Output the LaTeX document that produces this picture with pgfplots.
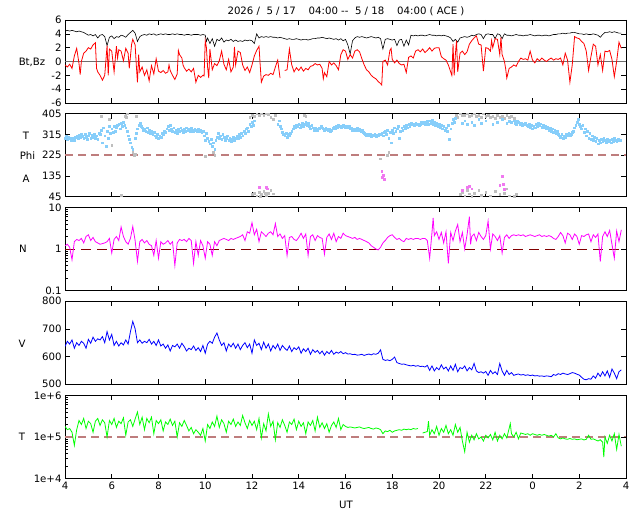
\documentclass[border=0pt]{standalone}
\usepackage{fontspec}
\setmainfont{DejaVu Sans}
\usepackage{pgfplots}
\pgfplotsset{compat=1.18}
\definecolor{phiblue}{RGB}{135,206,250}
\definecolor{phigray}{RGB}{190,190,190}
\definecolor{phimag}{RGB}{240,120,240}
\definecolor{dashrose}{RGB}{190,125,125}
\definecolor{dashdark}{RGB}{128,0,0}
\definecolor{zerogray}{RGB}{110,110,110}
\definecolor{nmag}{RGB}{255,0,255}
\definecolor{tgreen}{RGB}{0,255,0}
\newcommand{\fs}{\fontsize{10.2}{12}\selectfont}
\pgfplotsset{
 panel/.style={
  scale only axis, width=561bp, height=83bp,
  anchor=south west,
  xmin=4, xmax=28,
  xtick={4,6,...,28},
  xticklabels={},
  tick align=inside,
  xtick pos=both, ytick pos=both,
  major tick length=5bp, minor tick length=3bp,
  axis line style={line width=0.8bp},
  tick style={black, line width=0.6bp},
  ticklabel style={font=\fs},
  clip=true,
 },
 rightticks/.style={
  panel, axis line style={draw=none}, xtick=\empty, yticklabels={},
  ytick pos=right, minor y tick style={draw=none},
 }
}
\begin{document}
\begin{tikzpicture}
\path[use as bounding box] (0bp,0bp) rectangle (640bp,512bp);
\node[font=\fs] at (346bp,501bp) {2026 /\ \ 5 / 17\ \ \ \ 04:00 {-}{-}\ \ 5 / 18\ \ \ \ 04:00 ( ACE )};
\node[font=\fs] at (32bp,450bp) {Bt,Bz};
\node[font=\fs] at (26bp,376.6bp) {T};
\node[font=\fs] at (27.5bp,356.5bp) {Phi};
\node[font=\fs] at (26bp,333bp) {A};
\node[font=\fs] at (23bp,263bp) {N};
\node[font=\fs] at (22bp,168bp) {V};
\node[font=\fs] at (22bp,75.3bp) {T};
\node[font=\fs] at (346bp,7bp) {UT};
% ---------------- Panel 1: Bt, Bz
\begin{axis}[panel, at={(65bp,409bp)}, ymin=-6, ymax=6, ytick={-6,-4,...,6}, yticklabels={-6,-4,-2,0,2,4,6}]
\addplot[zerogray, line width=1.4bp] coordinates {(4,0) (28,0)};
\addplot[black, line width=0.6bp] coordinates {
(4.0,4.4)(4.1,4.5)(4.2,4.4)(4.3,4.5)(4.4,4.4)(4.5,4.3)(4.6,4.4)(4.7,4.3)(4.8,4.2)(4.9,4.0)
(5.0,3.8)(5.1,3.9)(5.2,3.7)(5.3,3.9)(5.4,3.4)(5.5,3.8)(5.6,3.9)(5.7,3.6)(5.8,2.3)(5.9,3.5)
(6.0,3.7)(6.1,3.3)(6.2,3.6)(6.3,3.5)(6.4,3.8)(6.5,3.7)(6.6,3.5)(6.7,3.9)(6.8,4.2)(6.9,4.5)
(7.0,4.1)(7.1,2.9)(7.2,3.6)(7.3,3.8)(7.4,3.9)(7.5,3.8)(7.6,4.0)(7.7,3.9)(7.8,4.0)(7.9,3.8)
(8.0,3.9)(8.1,4.0)(8.2,3.9)(8.3,4.0)(8.4,3.9)(8.5,3.9)(8.6,4.0)(8.7,3.9)(8.8,4.0)(8.9,3.9)
(9.0,3.9)(9.1,3.8)(9.2,3.9)(9.3,3.9)(9.4,3.8)(9.5,3.9)(9.6,3.9)(9.7,3.9)(9.8,3.8)(9.9,3.9)
(10.0,3.8)(10.05,2.9)(10.1,3.4)(10.2,2.6)(10.3,3.3)(10.4,2.2)(10.5,3.2)(10.6,3.0)(10.7,3.4)(10.8,2.8)(10.9,3.1)
(11.0,3.0)(11.1,3.2)(11.2,2.9)(11.3,3.1)(11.4,2.9)(11.5,3.0)(11.6,2.9)(11.7,3.1)(11.8,3.0)(11.9,3.1)
(12.0,3.0)(12.1,2.6)(12.2,4.0)(12.3,3.4)(12.4,3.6)(12.5,3.5)(12.6,3.6)(12.7,3.5)(12.8,3.6)(12.9,3.5)
(13.0,3.5)(13.1,3.4)(13.2,3.5)(13.3,3.4)(13.4,3.3)(13.5,3.2)(13.6,3.3)(13.7,3.2)(13.8,3.2)(13.9,3.3)
(14.0,3.2)(14.1,3.1)(14.2,3.2)(14.3,3.2)(14.4,3.1)(14.5,3.2)(14.6,3.3)(14.7,3.3)(14.8,3.4)(14.9,3.4)
(15.0,3.5)(15.1,3.4)(15.2,3.3)(15.3,3.4)(15.4,3.3)(15.5,3.2)(15.6,3.3)(15.7,3.1)(15.8,3.3)(15.9,3.0)
(16.0,3.2)(16.1,2.4)(16.2,1.1)(16.3,3.0)(16.4,3.4)(16.5,3.6)(16.6,3.5)(16.7,3.6)(16.8,3.5)(16.9,3.4)
(17.0,3.5)(17.1,3.6)(17.2,3.5)(17.3,3.4)(17.4,3.5)(17.5,3.3)(17.6,1.8)(17.7,3.2)(17.8,3.3)(17.9,3.2)
(18.0,3.1)(18.1,3.2)(18.2,2.3)(18.3,3.1)(18.4,3.2)(18.5,2.2)(18.6,3.1)(18.7,2.4)(18.8,3.8)(18.9,3.7)
(19.0,3.8)(19.1,3.7)(19.2,3.8)(19.3,3.8)(19.4,3.7)(19.5,3.8)(19.6,3.9)(19.7,3.8)(19.8,3.8)(19.9,3.7)
(20.0,3.8)(20.1,3.7)(20.2,3.8)(20.3,3.7)(20.4,3.6)(20.5,3.4)(20.6,2.9)(20.7,3.2)(20.8,2.8)(20.9,3.4)
(21.0,3.5)(21.1,3.6)(21.2,3.5)(21.3,3.6)(21.4,3.8)(21.5,3.7)(21.6,3.9)(21.7,4.0)(21.8,3.9)(21.9,3.3)
(22.0,3.9)(22.1,4.0)(22.2,3.9)(22.3,3.9)(22.4,3.3)(22.5,4.0)(22.6,3.9)(22.7,3.3)(22.8,4.0)(22.9,3.8)
(23.0,3.8)(23.1,3.7)(23.2,3.8)(23.3,3.9)(23.4,3.8)(23.5,3.8)(23.6,3.7)(23.7,3.8)(23.8,3.8)(23.9,3.9)
(24.0,3.8)(24.1,3.7)(24.2,3.8)(24.3,3.8)(24.4,3.7)(24.5,3.8)(24.6,3.8)(24.7,3.7)(24.8,3.8)(24.9,3.9)
(25.0,3.9)(25.1,4.0)(25.2,4.0)(25.3,4.1)(25.4,4.0)(25.5,4.1)(25.6,4.1)(25.7,4.2)(25.8,4.2)(25.9,4.1)
(26.0,4.0)(26.1,4.0)(26.2,3.9)(26.3,4.0)(26.4,3.9)(26.5,3.9)(26.6,4.0)(26.7,3.9)(26.8,3.8)(26.9,3.5)
(27.0,3.9)(27.1,4.2)(27.2,4.2)(27.3,4.3)(27.4,4.2)(27.5,4.3)(27.6,4.2)(27.7,4.1)(27.8,4.1)};
\addplot[red, line width=0.8bp] coordinates {
(4.0,-0.5)(4.1,-0.8)(4.2,-0.4)(4.3,-1.0)(4.4,0.8)(4.5,1.9)(4.6,-0.3)(4.65,-1.9)(4.7,0.0)(4.8,1.2)(4.9,1.5)
(5.0,2.0)(5.1,1.8)(5.2,2.4)(5.3,2.7)(5.35,-1.0)(5.4,-1.5)(5.5,-2.0)(5.6,-2.7)(5.7,-2.0)(5.8,2.3)(5.85,-2.0)(5.9,1.8)
(6.0,1.5)(6.1,-1.5)(6.2,2.2)(6.25,0.5)(6.3,1.7)(6.4,1.5)(6.5,0.1)(6.6,1.9)(6.7,1.2)(6.75,-1.0)(6.85,2.5)(6.9,3.2)
(7.0,2.4)(7.05,-0.5)(7.1,-3.0)(7.15,1.0)(7.2,-1.5)(7.3,-0.8)(7.4,-2.0)(7.5,-1.2)(7.6,-2.8)(7.7,-0.6)(7.8,-1.8)(7.9,0.4)
(8.0,-1.4)(8.1,-1.6)(8.2,-1.3)(8.3,-1.7)(8.4,-1.5)(8.45,-0.5)(8.5,-1.3)(8.6,-2.0)(8.7,-2.6)(8.8,-1.8)(8.85,1.6)(8.9,1.0)
(9.0,0.5)(9.05,-0.5)(9.1,-0.9)(9.2,-1.4)(9.3,-1.1)(9.4,-1.5)(9.5,-1.0)(9.6,-3.0)(9.7,-2.0)(9.8,-2.3)(9.9,-2.0)(9.95,-2.1)
(10.0,3.0)(10.05,2.0)(10.1,-0.8)(10.15,-2.4)(10.2,1.8)(10.3,-1.2)(10.4,-0.3)(10.5,-0.6)(10.6,0.1)(10.7,1.5)(10.8,-0.4)(10.9,-1.2)
(11.0,0.3)(11.1,-1.5)(11.2,-0.8)(11.25,2.1)(11.3,-0.5)(11.4,1.5)(11.5,1.3)(11.6,-0.5)(11.7,-1.3)(11.8,-0.8)(11.9,-1.6)
(12.0,-0.5)(12.1,0.8)(12.2,1.6)(12.3,2.2)(12.35,-0.5)(12.4,-3.0)(12.5,-2.1)(12.6,-1.9)(12.7,-2.0)(12.8,-1.7)(12.9,-1.9)
(13.0,-0.8)(13.1,0.2)(13.2,-2.4)};
\addplot[red, line width=0.8bp] coordinates {
(13.4,-1.3)(13.5,-1.2)(13.6,1.8)(13.7,-0.5)(13.8,-1.5)(13.9,-0.9)
(14.0,-1.3)(14.1,-0.8)(14.2,-1.4)(14.3,-1.0)(14.4,-1.2)(14.5,-0.7)(14.6,-0.6)(14.7,-0.3)(14.8,-0.5)(14.9,-0.4)
(15.0,-1.0)(15.05,-2.5)(15.1,-1.6)(15.2,-2.2)(15.3,0.0)(15.4,-0.5)(15.5,-0.2)(15.6,-0.6)(15.7,-1.2)(15.8,1.0)(15.9,1.7)
(16.0,1.5)(16.1,0.3)(16.2,1.0)(16.3,0.5)(16.4,1.5)(16.5,1.7)(16.6,1.4)(16.7,0.4)(16.8,-0.5)(16.9,-1.2)
(17.0,-1.5)(17.1,-2.0)(17.2,-2.3)(17.3,-2.5)(17.4,-2.9)(17.5,-3.2)(17.55,-3.4)(17.6,0.0)(17.7,0.2)(17.8,-0.5)(17.9,1.6)(17.95,1.9)
(18.0,0.3)(18.1,-0.2)(18.2,0.2)(18.3,-0.3)(18.4,-0.5)(18.5,-0.4)(18.6,-1.6)(18.7,0.6)(18.8,0.8)(18.9,0.5)
(19.0,1.5)(19.1,1.7)(19.2,1.4)(19.3,1.8)(19.4,1.3)(19.5,1.6)(19.6,2.0)(19.7,1.5)(19.8,1.9)(19.9,2.0)
(20.0,2.0)(20.1,0.7)(20.2,0.4)(20.3,0.2)(20.4,-0.5)(20.5,-1.5)(20.55,-2.0)(20.6,2.5)(20.65,-2.0)(20.7,1.0)(20.75,3.0)(20.8,-1.5)(20.9,1.2)
(21.0,1.5)(21.1,1.0)(21.2,1.4)(21.3,2.5)(21.4,3.0)(21.5,3.4)(21.6,3.7)(21.7,2.5)(21.8,2.4)(21.9,-1.4)
(22.0,2.0)(22.1,1.9)(22.2,1.5)(22.25,3.0)(22.3,2.0)(22.4,3.3)(22.5,3.2)(22.6,1.0)(22.65,3.5)(22.7,1.0)(22.8,0.0)(22.85,-1.0)(22.9,-2.4)
(23.0,-1.0)(23.1,-0.8)(23.2,-0.5)(23.3,-0.7)(23.4,0.0)(23.5,0.5)(23.6,0.3)(23.7,0.4)(23.8,0.2)(23.9,1.5)
(24.0,0.2)(24.1,-0.2)(24.2,0.4)(24.3,0.1)(24.4,0.5)(24.5,0.2)(24.6,0.0)(24.7,0.3)(24.8,0.5)(24.9,0.2)
(25.0,0.4)(25.1,0.3)(25.2,0.5)(25.3,-0.5)(25.4,1.2)(25.5,0.2)(25.6,-3.0)(25.7,-0.5)(25.8,3.6)(25.9,3.4)
(26.0,3.3)(26.1,2.9)(26.2,2.6)(26.3,1.5)(26.4,-1.3)(26.5,0.7)(26.6,2.5)(26.7,2.2)(26.8,-0.5)(26.9,1.0)
(27.0,-1.3)(27.1,1.5)(27.2,1.4)(27.3,1.6)(27.4,0.3)(27.5,-2.2)(27.6,0.0)(27.7,2.8)(27.8,1.9)};
\end{axis}
% ---------------- Panel 2: Phi
\begin{axis}[panel, at={(65bp,315.2bp)}, ymin=45, ymax=405, ytick={45,135,225,315,405}, yticklabels={45,135,225,315,405}]
\addplot[dashrose, line width=1.6bp, dash pattern=on 8bp off 5bp] coordinates {(4,225) (28,225)};
\addplot[only marks, mark=square*, mark size=0.9bp, phigray, mark options={draw=phigray, fill=phigray}] coordinates {
(5.55,395)(5.9,380)(6.0,270)(6.55,395)(6.6,400)(6.65,405)(6.62,390)(6.9,240)(6.95,225)(7.0,230)(7.05,395)
(10.0,220)(10.35,240)(10.4,225)(11.9,390)(12.0,400)(12.1,395)(12.2,405)(12.3,398)(12.4,405)(12.5,400)(12.6,405)
(12.7,402)(12.8,390)(12.9,380)(13.0,400)(14.25,400)(14.3,395)(17.5,210)(17.8,225)(17.85,240)
(20.75,400)(20.8,390)(20.9,405)(21.0,400)(21.1,398)(21.2,405)(21.3,395)(21.4,400)(21.5,405)(21.6,395)(21.7,400)
(21.8,390)(21.9,405)(22.0,395)(22.1,400)(22.2,390)(22.3,395)(22.4,385)(22.5,400)(22.6,390)(22.7,395)(22.8,385)
(22.9,400)(23.0,390)(23.1,395)(23.2,385)
(6.4,52)(12.0,55)(12.1,60)(12.2,50)(12.3,65)(12.4,55)(12.5,70)(12.6,50)(12.7,60)(12.8,72)(12.9,58)(12.35,48)(12.55,62)
(20.9,55)(21.0,65)(21.1,50)(21.2,72)(21.3,58)(21.4,48)(21.5,62)(21.7,75)(21.8,52)(22.0,66)(22.2,50)(22.4,70)
(22.6,56)(22.8,62)(22.9,80)(23.0,50)(23.2,48)(23.3,55)};
\addplot[only marks, mark=square*, mark size=0.9bp, phimag, mark options={draw=phimag, fill=phimag}] coordinates {
(12.3,88)(12.6,85)(12.65,80)(17.55,155)(17.6,140)(17.58,130)(17.65,120)(21.0,75)(21.2,88)(21.3,92)(21.4,80)
(22.6,95)(22.7,135)(22.75,100)(22.8,78)};
\addplot[only marks, mark=square*, mark size=0.9bp, phiblue, mark options={draw=phiblue, fill=phiblue}] coordinates {
(4.0,300)(4.05,310)(4.1,295)(4.15,305)(4.2,298)(4.25,292)(4.3,300)(4.35,296)(4.4,290)(4.45,302)(4.5,308)(4.55,300)
(4.6,312)(4.65,305)(4.7,315)(4.75,308)(4.8,300)(4.85,318)(4.9,305)(4.95,295)(5.0,310)(5.05,320)(5.1,300)(5.15,312)
(5.2,305)(5.25,318)(5.3,300)(5.35,310)(5.4,295)(5.45,320)(5.5,315)(5.55,335)(5.6,280)(5.65,345)(5.7,310)(5.75,265)
(5.8,330)(5.85,300)(5.9,350)(5.95,320)(6.0,340)(6.05,325)(6.1,350)(6.15,330)(6.2,345)(6.25,355)(6.3,360)(6.35,340)
(6.4,365)(6.45,350)(6.5,370)(6.55,355)(6.6,345)(6.65,330)(6.7,310)(6.75,295)(6.8,280)(6.85,260)(6.9,250)(7.0,300)
(7.05,320)(7.1,340)(7.15,355)(7.2,365)(7.25,350)(7.3,345)(7.35,335)(7.4,340)(7.45,330)(7.5,345)(7.55,325)(7.6,335)
(7.65,320)(7.7,330)(7.75,315)(7.8,325)(7.85,310)(7.9,305)(7.95,315)(8.0,300)(8.05,310)(8.1,305)(8.15,320)(8.2,315)
(8.25,330)(8.3,325)(8.35,340)(8.4,350)(8.45,335)(8.5,355)(8.55,340)(8.6,330)(8.65,345)(8.7,325)(8.75,335)(8.8,320)
(8.85,340)(8.9,330)(8.95,345)(9.0,335)(9.05,325)(9.1,340)(9.15,330)(9.2,345)(9.25,335)(9.3,340)(9.35,330)(9.4,345)
(9.45,335)(9.5,330)(9.55,340)(9.6,335)(9.65,328)(9.7,340)(9.75,330)(9.8,335)(9.85,325)(9.9,330)(9.95,310)(10.0,290)
(10.05,320)(10.1,300)(10.15,285)(10.2,275)(10.25,295)(10.3,265)(10.35,280)(10.4,250)(10.45,290)(10.5,305)(10.55,320)
(10.6,300)(10.65,310)(10.7,295)(10.75,315)(10.8,305)(10.85,290)(10.9,300)(10.95,310)(11.0,290)(11.05,300)(11.1,285)
(11.15,295)(11.2,305)(11.25,290)(11.3,300)(11.35,310)(11.4,300)(11.45,315)(11.5,305)(11.55,320)(11.6,310)(11.65,330)
(11.7,320)(11.75,340)(11.8,345)(11.85,330)(11.9,360)(11.95,350)(12.0,370)(12.05,355)(12.1,375)
(13.1,360)(13.15,375)(13.2,350)(13.25,340)(13.3,325)(13.35,315)(13.4,310)(13.45,320)(13.5,305)(13.55,315)(13.6,310)
(13.65,320)(13.7,330)(13.75,340)(13.8,350)(13.85,345)(13.9,355)(13.95,350)(14.0,360)(14.05,345)(14.1,355)(14.15,365)
(14.2,350)(14.25,360)(14.3,370)(14.35,355)(14.4,365)(14.45,350)(14.5,340)(14.55,355)(14.6,345)(14.65,335)(14.7,345)
(14.75,340)(14.8,335)(14.85,345)(14.9,340)(14.95,350)(15.0,345)(15.05,340)(15.1,335)(15.15,345)(15.2,338)(15.25,332)
(15.3,340)(15.35,330)(15.4,335)(15.45,342)(15.5,348)(15.55,340)(15.6,350)(15.65,345)(15.7,355)(15.75,350)(15.8,348)
(15.85,352)(15.9,355)(15.95,350)(16.0,348)(16.05,352)(16.1,345)(16.15,350)(16.2,340)(16.25,345)(16.3,335)(16.35,340)
(16.4,332)(16.45,338)(16.5,345)(16.55,335)(16.6,340)(16.65,330)(16.7,335)(16.75,325)(16.8,320)(16.85,315)(16.9,312)
(16.95,318)(17.0,310)(17.05,315)(17.1,308)(17.15,312)(17.2,310)(17.25,315)(17.3,308)(17.35,312)(17.4,310)(17.45,318)
(17.5,315)(17.55,320)(17.6,310)(17.65,325)(17.7,330)(17.75,318)(17.8,335)(17.85,300)(17.9,325)(17.95,280)(18.0,335)
(18.05,320)(18.1,345)(18.15,330)(18.2,340)(18.25,350)(18.3,300)(18.35,330)(18.4,345)(18.45,335)(18.5,350)(18.55,340)
(18.6,355)(18.65,345)(18.7,360)(18.75,352)(18.8,365)(18.85,358)(18.9,360)(18.95,355)(19.0,365)(19.05,358)(19.1,362)
(19.15,355)(19.2,360)(19.25,368)(19.3,362)(19.35,370)(19.4,360)(19.45,365)(19.5,372)(19.55,360)(19.6,375)(19.65,365)
(19.7,378)(19.75,360)(19.8,370)(19.85,355)(19.9,365)(19.95,350)(20.0,360)(20.05,345)(20.1,355)(20.15,340)(20.2,350)
(20.25,335)(20.3,345)(20.35,330)(20.4,355)(20.45,295)(20.5,340)(20.55,365)(20.6,380)(20.65,370)(20.7,385)
(21.0,365)(21.1,375)(21.2,360)(21.4,370)(21.5,355)(21.7,380)(21.8,365)(22.0,375)(22.3,360)(22.5,370)(22.7,380)
(22.9,365)(23.0,372)(23.1,368)
(23.2,375)(23.25,365)(23.3,360)(23.35,372)(23.4,368)(23.45,360)(23.5,365)(23.55,355)(23.6,362)(23.65,358)(23.7,365)
(23.75,355)(23.8,350)(23.85,360)(23.9,345)(23.95,355)(24.0,340)(24.05,350)(24.1,345)(24.15,360)(24.2,352)(24.25,365)
(24.3,355)(24.35,362)(24.4,348)(24.45,355)(24.5,345)(24.55,352)(24.6,340)(24.65,348)(24.7,335)(24.75,345)(24.8,330)
(24.85,340)(24.9,325)(24.95,335)(25.0,320)(25.05,330)(25.1,315)(25.15,310)(25.2,305)(25.25,315)(25.3,300)(25.35,310)
(25.4,305)(25.45,315)(25.5,310)(25.55,320)(25.6,312)(25.65,318)(25.7,325)(25.75,330)(25.8,345)(25.85,355)(25.9,370)
(25.95,380)(26.0,360)(26.05,350)(26.1,340)(26.15,355)(26.2,325)(26.25,340)(26.3,310)(26.35,330)(26.4,300)(26.45,320)
(26.5,295)(26.55,310)(26.6,290)(26.65,305)(26.7,285)(26.75,300)(26.8,275)(26.85,290)(26.9,280)(26.95,295)(27.0,285)
(27.05,300)(27.1,290)(27.15,280)(27.2,295)(27.25,285)(27.3,290)(27.35,280)(27.4,295)(27.45,285)(27.5,300)(27.55,290)
(27.6,285)(27.65,295)(27.7,288)(27.75,292)};
\end{axis}
% ---------------- Panel 3: N
\begin{axis}[panel, at={(65bp,221.5bp)}, ymode=log, ymin=0.1, ymax=10, ytick={0.1,1,10}, yticklabels={0.1,1,10}, ytick pos=left]
\addplot[dashdark, line width=0.8bp, dash pattern=on 10bp off 6bp] coordinates {(4,1) (28,1)};
\addplot[nmag, line width=0.8bp] coordinates {
(4.0,1.2)(4.1,1.3)(4.2,1.1)(4.3,0.55)(4.4,1.5)(4.5,1.7)(4.6,1.6)(4.7,1.8)(4.8,1.4)(4.9,2.0)
(5.0,2.2)(5.1,1.6)(5.2,1.9)(5.3,1.5)(5.4,1.4)(5.5,1.3)(5.6,1.35)(5.7,1.4)(5.8,1.5)(5.9,1.8)
(6.0,0.8)(6.1,1.7)(6.2,2.0)(6.3,1.6)(6.4,3.4)(6.5,2.0)(6.6,1.5)(6.7,1.3)(6.8,1.8)(6.9,3.5)
(7.0,1.6)(7.1,0.5)(7.2,1.5)(7.3,1.7)(7.4,1.4)(7.5,1.6)(7.6,1.3)(7.7,1.2)(7.8,0.7)(7.9,1.6)
(8.0,0.6)(8.1,1.5)(8.2,1.3)(8.3,1.4)(8.4,1.6)(8.5,1.3)(8.6,1.5)(8.7,0.4)(8.8,1.4)(8.9,1.7)
(9.0,1.6)(9.1,1.7)(9.2,1.5)(9.3,1.8)(9.4,1.6)(9.5,0.45)(9.6,1.5)(9.7,0.7)(9.8,1.6)(9.9,1.2)
(10.0,0.6)(10.1,1.5)(10.2,1.3)(10.3,0.7)(10.4,1.5)(10.5,1.2)(10.6,1.6)(10.7,1.7)(10.8,1.8)(10.9,1.7)
(11.0,1.6)(11.1,1.8)(11.2,1.7)(11.3,1.8)(11.4,1.9)(11.5,2.0)(11.6,2.2)(11.7,1.6)(11.8,2.6)(11.9,2.4)
(12.0,4.3)(12.1,2.2)(12.2,3.0)(12.3,1.5)(12.4,2.6)(12.5,2.3)(12.6,2.0)(12.7,2.4)(12.8,2.6)(12.9,2.2)
(13.0,4.1)(13.1,2.0)(13.2,2.3)(13.3,1.8)(13.4,2.1)(13.5,0.7)(13.6,1.9)(13.7,2.0)(13.8,1.7)(13.9,1.6)
(14.0,1.9)(14.1,2.4)(14.2,1.8)(14.3,2.3)(14.4,0.7)(14.5,2.0)(14.6,2.2)(14.7,1.6)(14.8,2.1)(14.9,1.9)
(15.0,1.8)(15.1,0.75)(15.2,1.9)(15.3,2.3)(15.4,1.7)(15.5,2.4)(15.6,1.5)(15.7,2.0)(15.8,1.8)(15.9,2.4)
(16.0,2.1)(16.1,2.0)(16.2,1.9)(16.3,1.8)(16.4,1.9)(16.5,1.7)(16.6,1.8)(16.7,1.7)(16.8,1.6)(16.9,1.5)
(17.0,1.4)(17.1,1.2)(17.2,1.1)(17.3,1.0)(17.4,0.95)(17.5,1.1)(17.6,1.4)(17.7,1.6)(17.8,1.9)(17.9,2.1)
(18.0,2.2)(18.1,1.9)(18.2,1.7)(18.3,1.8)(18.4,1.6)(18.5,1.5)(18.6,1.8)(18.7,1.7)(18.8,1.8)(18.9,1.7)
(19.0,1.8)(19.1,1.8)(19.2,1.7)(19.3,1.8)(19.4,1.8)(19.5,1.6)(19.6,0.6)(19.7,2.5)(19.75,5.6)(19.8,2.1)(19.9,2.6)
(20.0,1.7)(20.1,2.5)(20.2,1.4)(20.3,2.6)(20.4,0.45)(20.5,2.5)(20.6,1.6)(20.7,2.7)(20.8,3.9)(20.9,1.5)
(21.0,2.5)(21.1,1.0)(21.2,2.2)(21.3,6.0)(21.35,1.3)(21.4,2.0)(21.5,2.3)(21.6,1.6)(21.7,2.5)(21.8,2.0)(21.9,1.7)
(22.0,2.1)(22.1,4.7)(22.2,1.0)(22.3,2.3)(22.4,2.0)(22.5,1.6)(22.6,2.1)(22.7,0.8)(22.8,1.9)(22.9,2.2)
(23.0,1.8)(23.1,2.1)(23.2,2.2)(23.3,2.1)(23.4,2.2)(23.5,2.1)(23.6,2.2)(23.7,2.0)(23.8,2.1)(23.9,2.2)
(24.0,2.1)(24.1,2.0)(24.2,2.1)(24.3,2.2)(24.4,2.0)(24.5,2.1)(24.6,2.0)(24.7,2.1)(24.8,2.0)(24.9,1.8)
(25.0,1.7)(25.1,2.0)(25.2,2.5)(25.3,2.1)(25.4,1.4)(25.5,2.4)(25.6,2.2)(25.7,1.7)(25.8,2.3)(25.9,2.0)
(26.0,1.3)(26.1,2.1)(26.2,2.0)(26.3,2.2)(26.4,2.3)(26.5,1.5)(26.6,2.2)(26.7,1.9)(26.8,2.3)(26.9,0.5)
(27.0,2.0)(27.1,2.6)(27.2,2.0)(27.3,2.8)(27.4,1.3)(27.5,0.6)(27.6,2.7)(27.7,1.5)(27.8,2.9)};
\end{axis}
\begin{axis}[rightticks, at={(65bp,221.5bp)}, ymode=log, ymin=0.1, ymax=10, ytick={0.1,1,10}]
\addplot[draw=none] coordinates {(4,1) (28,1)};
\end{axis}
% ---------------- Panel 4: V
\begin{axis}[panel, at={(65bp,127.8bp)}, ymin=500, ymax=800, ytick={500,600,700,800}, yticklabels={500,600,700,800}]
\addplot[blue, line width=0.8bp] coordinates {
(4.0,636)(4.1,655)(4.2,645)(4.3,660)(4.4,630)(4.5,650)(4.6,640)(4.7,655)(4.8,648)(4.9,630)
(5.0,662)(5.1,648)(5.2,670)(5.3,655)(5.4,664)(5.5,660)(5.6,672)(5.7,650)(5.8,690)(5.9,660)
(6.0,680)(6.1,640)(6.2,655)(6.3,638)(6.4,650)(6.5,642)(6.6,660)(6.7,645)(6.8,690)(6.9,727)
(7.0,700)(7.1,650)(7.2,660)(7.3,648)(7.4,655)(7.5,650)(7.6,662)(7.7,645)(7.8,655)(7.9,640)
(8.0,660)(8.1,638)(8.2,645)(8.3,630)(8.4,642)(8.5,620)(8.6,640)(8.7,635)(8.8,645)(8.9,630)
(9.0,648)(9.1,636)(9.2,620)(9.3,630)(9.4,625)(9.5,638)(9.6,622)(9.7,632)(9.8,618)(9.9,640)
(10.0,612)(10.1,645)(10.2,655)(10.3,648)(10.4,670)(10.5,685)(10.6,660)(10.7,640)(10.8,650)(10.9,620)
(11.0,645)(11.1,635)(11.2,648)(11.3,630)(11.4,645)(11.5,625)(11.6,640)(11.7,650)(11.8,632)(11.9,645)
(12.0,612)(12.1,660)(12.2,640)(12.3,648)(12.4,625)(12.5,652)(12.6,630)(12.7,645)(12.8,620)(12.9,640)
(13.0,628)(13.1,645)(13.2,622)(13.3,640)(13.4,630)(13.5,622)(13.6,638)(13.7,618)(13.8,632)(13.9,625)
(14.0,635)(14.1,612)(14.2,628)(14.3,618)(14.4,630)(14.5,608)(14.6,625)(14.7,615)(14.8,622)(14.9,610)
(15.0,620)(15.1,605)(15.2,618)(15.3,610)(15.4,622)(15.5,608)(15.6,616)(15.7,612)(15.8,618)(15.9,610)
(16.0,614)(16.1,609)(16.2,610)(16.3,607)(16.4,608)(16.5,605)(16.6,606)(16.7,608)(16.8,604)(16.9,607)
(17.0,609)(17.1,606)(17.2,610)(17.3,608)(17.4,612)(17.5,624)(17.6,590)(17.7,586)(17.8,588)(17.9,585)
(18.0,590)(18.1,598)(18.2,578)(18.3,575)(18.4,572)(18.5,573)(18.6,570)(18.7,568)(18.8,566)(18.9,568)
(19.0,565)(19.1,567)(19.2,564)(19.3,565)(19.4,562)(19.5,568)(19.6,550)(19.7,566)(19.8,548)(19.9,560)
(20.0,552)(20.1,570)(20.2,555)(20.3,562)(20.4,548)(20.5,566)(20.6,550)(20.7,572)(20.8,545)(20.9,560)
(21.0,556)(21.1,566)(21.2,548)(21.3,560)(21.4,552)(21.5,575)(21.6,548)(21.7,542)(21.8,545)(21.9,540)
(22.0,546)(22.1,532)(22.2,550)(22.3,538)(22.4,545)(22.5,535)(22.6,575)(22.7,548)(22.8,532)(22.9,550)
(23.0,535)(23.1,542)(23.2,532)(23.3,535)(23.4,537)(23.5,533)(23.6,535)(23.7,532)(23.8,534)(23.9,531)
(24.0,533)(24.1,530)(24.2,531)(24.3,529)(24.4,530)(24.5,528)(24.6,530)(24.7,529)(24.8,527)(24.9,535)
(25.0,532)(25.1,538)(25.2,535)(25.3,540)(25.4,537)(25.5,535)(25.6,538)(25.7,542)(25.8,540)(25.9,536)
(26.0,533)(26.1,525)(26.2,518)(26.3,516)(26.4,520)(26.5,518)(26.6,530)(26.7,522)(26.8,540)(26.9,528)
(27.0,545)(27.1,530)(27.2,548)(27.3,525)(27.4,555)(27.5,540)(27.6,520)(27.7,545)(27.8,552)};
\end{axis}
% ---------------- Panel 5: T
\begin{axis}[panel, at={(65bp,33.5bp)}, ymode=log, ymin=1e4, ymax=1e6, ytick={1e4,1e5,1e6}, yticklabels={1e+4,1e+5,1e+6}, ytick pos=left,
  xticklabels={4,6,8,10,12,14,16,18,20,22,0,2,4}]
\addplot[dashrose, line width=1.6bp, dash pattern=on 8bp off 5bp] coordinates {(4,1e5) (28,1e5)};
\addplot[tgreen, line width=0.8bp] coordinates {
(4.0,1.8e5)(4.1,1.5e5)(4.2,1.6e5)(4.3,1.3e5)(4.4,6.3e4)(4.5,1.5e5)(4.6,2.5e5)(4.7,2.0e5)(4.8,2.8e5)(4.9,1.6e5)
(5.0,2.4e5)(5.1,2.1e5)(5.2,1.3e5)(5.3,2.4e5)(5.4,2.8e5)(5.5,1.9e5)(5.6,2.6e5)(5.7,2.2e5)(5.8,1.0e5)(5.9,2.5e5)
(6.0,2.0e5)(6.1,2.8e5)(6.2,1.7e5)(6.3,2.4e5)(6.4,2.1e5)(6.5,2.9e5)(6.6,1.1e5)(6.7,2.3e5)(6.8,2.6e5)(6.9,1.8e5)
(7.0,2.7e5)(7.1,4.0e5)(7.2,2.0e5)(7.3,3.0e5)(7.4,1.5e5)(7.5,2.8e5)(7.6,2.2e5)(7.7,3.0e5)(7.8,1.2e5)(7.9,2.5e5)
(8.0,2.1e5)(8.1,2.6e5)(8.2,1.4e5)(8.3,2.3e5)(8.4,2.0e5)(8.5,2.7e5)(8.6,1.9e5)(8.7,2.4e5)(8.8,1.0e5)(8.9,2.2e5)
(9.0,1.8e5)(9.1,2.5e5)(9.2,1.9e5)(9.3,1.4e5)(9.4,1.7e5)(9.5,1.2e5)(9.6,1.5e5)(9.7,1.3e5)(9.8,1.1e5)(9.9,1.6e5)
(10.0,8.0e4)(10.1,2.0e5)(10.2,1.6e5)(10.3,2.3e5)(10.4,1.8e5)(10.5,3.2e5)(10.6,1.7e5)(10.7,2.6e5)(10.8,2.1e5)(10.9,1.3e5)
(11.0,2.4e5)(11.1,2.0e5)(11.2,2.7e5)(11.3,1.8e5)(11.4,2.3e5)(11.5,1.9e5)(11.6,3.3e5)(11.7,2.2e5)(11.8,1.6e5)(11.9,2.5e5)
(12.0,1.9e5)(12.1,2.4e5)(12.2,1.5e5)(12.3,2.8e5)(12.4,9.5e4)(12.5,2.1e5)(12.6,1.4e5)(12.7,3.6e5)(12.8,1.8e5)(12.9,2.4e5)
(13.0,8.5e4)(13.1,2.2e5)(13.2,1.7e5)(13.3,2.6e5)(13.4,1.9e5)(13.5,1.3e5)(13.6,2.3e5)(13.7,2.0e5)(13.8,2.7e5)(13.9,1.5e5)
(14.0,2.4e5)(14.1,1.8e5)(14.2,2.2e5)(14.3,1.2e5)(14.4,2.3e5)(14.5,1.9e5)(14.6,2.5e5)(14.7,1.4e5)(14.8,3.0e5)(14.9,1.7e5)
(15.0,2.2e5)(15.1,1.6e5)(15.2,2.1e5)(15.3,1.3e5)(15.4,1.9e5)(15.5,2.3e5)(15.6,1.7e5)(15.7,2.8e5)(15.8,1.5e5)(15.9,2.0e5)
(16.0,1.8e5)(16.1,1.7e5)(16.2,1.75e5)(16.3,1.7e5)(16.4,1.65e5)(16.5,1.7e5)(16.6,1.75e5)(16.7,1.65e5)(16.8,1.6e5)(16.9,1.65e5)
(17.0,1.7e5)(17.1,1.6e5)(17.2,1.55e5)(17.3,1.65e5)(17.4,1.6e5)(17.5,1.5e5)(17.6,1.2e5)(17.7,1.4e5)(17.8,1.35e5)(17.9,1.45e5)
(18.0,1.3e5)(18.1,1.4e5)(18.2,1.45e5)(18.3,1.5e5)(18.4,1.45e5)(18.5,1.55e5)(18.6,1.5e5)(18.7,1.55e5)(18.8,1.5e5)(18.9,1.6e5)
(19.0,1.55e5)(19.1,1.6e5)};
\addplot[tgreen, line width=0.8bp] coordinates {
(19.3,1.25e5)(19.4,1.3e5)(19.5,1.35e5)(19.55,2.4e5)(19.6,1.1e5)(19.7,1.5e5)(19.8,1.2e5)(19.9,1.8e5)
(20.0,1.1e5)(20.1,1.6e5)(20.2,1.3e5)(20.3,1.9e5)(20.4,1.2e5)(20.5,1.5e5)(20.6,1.1e5)(20.7,2.0e5)(20.8,1.3e5)(20.9,1.7e5)
(21.0,8.0e4)(21.1,4.4e4)(21.2,1.3e5)(21.3,7.5e4)(21.4,1.1e5)(21.5,8.5e4)(21.6,1.2e5)(21.7,9.0e4)(21.8,1.0e5)(21.9,8.0e4)
(22.0,1.1e5)(22.1,9.5e4)(22.2,1.15e5)(22.3,8.5e4)(22.4,1.3e5)(22.5,8.0e4)(22.6,1.1e5)(22.7,9.0e4)(22.8,1.2e5)(22.9,9.5e4)
(23.0,1.6e5)(23.05,2.1e5)(23.1,1.2e5)(23.2,1.0e5)(23.3,1.3e5)(23.4,9.0e4)(23.5,1.25e5)(23.6,1.2e5)(23.7,1.15e5)(23.8,1.2e5)(23.9,1.1e5)
(24.0,1.2e5)(24.1,1.15e5)(24.2,1.1e5)(24.3,1.15e5)(24.4,1.1e5)(24.5,1.15e5)(24.6,1.1e5)(24.7,1.05e5)(24.8,1.1e5)(24.9,1.0e5)
(25.0,1.2e5)(25.1,9.5e4)(25.2,9.0e4)(25.3,9.5e4)(25.4,9.0e4)(25.5,8.8e4)(25.6,9.2e4)(25.7,8.8e4)(25.8,9.0e4)(25.9,8.6e4)
(26.0,8.8e4)(26.1,9.0e4)(26.2,8.5e4)(26.3,8.8e4)(26.4,1.1e5)(26.5,8.8e4)(26.6,9.0e4)(26.7,8.5e4)(26.8,8.0e4)(26.9,8.6e4)
(27.0,7.5e4)(27.05,3.3e4)(27.1,1.0e5)(27.2,7.0e4)(27.3,1.1e5)(27.4,8.0e4)(27.5,1.2e5)(27.6,5.0e4)(27.7,1.15e5)(27.8,6.0e4)};
\end{axis}
\begin{axis}[rightticks, at={(65bp,33.5bp)}, ymode=log, ymin=1e4, ymax=1e6, ytick={1e4,1e5,1e6}]
\addplot[draw=none] coordinates {(4,1e5) (28,1e5)};
\end{axis}
\end{tikzpicture}
\end{document}
